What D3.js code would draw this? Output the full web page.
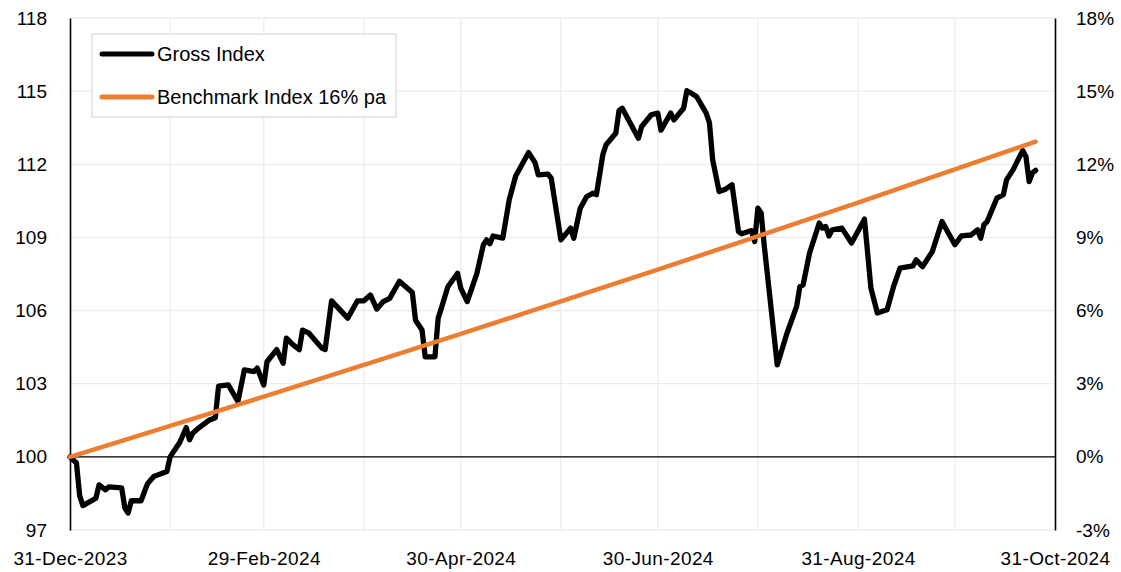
<!DOCTYPE html>
<html>
<head>
<meta charset="utf-8">
<script src="https://cdn.jsdelivr.net/npm/d3@7"></script>
<style>
	body { margin: 0; background: #fff; }
	text { font-family: 'Liberation Sans', Arial, sans-serif; fill: #000; }
</style>
</head>
<body>
<div id="chart"></div>
<script>
// Gross index
const grossDates = [
	'2023-12-31', '2024-01-02', '2024-01-03', '2024-01-04', '2024-01-08', '2024-01-09', '2024-01-11', '2024-01-12',
	'2024-01-16', '2024-01-17', '2024-01-18', '2024-01-19', '2024-01-22', '2024-01-24', '2024-01-26', '2024-01-29',
	'2024-01-30', '2024-01-31', '2024-02-03', '2024-02-05', '2024-02-06', '2024-02-07', '2024-02-09', '2024-02-12',
	'2024-02-14', '2024-02-15', '2024-02-18', '2024-02-21', '2024-02-23', '2024-02-26', '2024-02-27', '2024-02-29',
	'2024-03-01', '2024-03-04', '2024-03-06', '2024-03-07', '2024-03-09', '2024-03-11', '2024-03-12', '2024-03-14',
	'2024-03-18', '2024-03-19', '2024-03-21', '2024-03-26', '2024-03-29', '2024-03-31', '2024-04-02', '2024-04-04',
	'2024-04-06', '2024-04-08', '2024-04-11', '2024-04-15', '2024-04-16', '2024-04-18', '2024-04-19', '2024-04-22',
	'2024-04-23', '2024-04-24', '2024-04-26', '2024-04-29', '2024-04-30', '2024-05-02', '2024-05-05', '2024-05-07',
	'2024-05-08', '2024-05-09', '2024-05-10', '2024-05-13', '2024-05-15', '2024-05-17', '2024-05-21', '2024-05-23',
	'2024-05-24', '2024-05-27', '2024-05-28', '2024-05-31', '2024-06-03', '2024-06-04', '2024-06-06', '2024-06-08',
	'2024-06-10', '2024-06-11', '2024-06-13', '2024-06-14', '2024-06-17', '2024-06-18', '2024-06-19', '2024-06-24',
	'2024-06-25', '2024-06-28', '2024-06-30', '2024-07-01', '2024-07-04', '2024-07-05', '2024-07-08', '2024-07-09',
	'2024-07-10', '2024-07-12', '2024-07-15', '2024-07-16', '2024-07-17', '2024-07-19', '2024-07-21', '2024-07-23',
	'2024-07-25', '2024-07-26', '2024-07-29', '2024-07-30', '2024-07-31', '2024-08-01', '2024-08-02', '2024-08-06',
	'2024-08-09', '2024-08-12', '2024-08-13', '2024-08-14', '2024-08-16', '2024-08-19', '2024-08-20', '2024-08-21',
	'2024-08-22', '2024-08-23', '2024-08-26', '2024-08-29', '2024-09-02', '2024-09-04', '2024-09-06', '2024-09-09',
	'2024-09-11', '2024-09-13', '2024-09-17', '2024-09-18', '2024-09-20', '2024-09-23', '2024-09-26', '2024-09-30',
	'2024-10-02', '2024-10-05', '2024-10-07', '2024-10-08', '2024-10-09', '2024-10-10', '2024-10-13', '2024-10-15',
	'2024-10-16', '2024-10-18', '2024-10-21', '2024-10-22', '2024-10-23', '2024-10-24', '2024-10-25',
]
const grossValues = [
	100.0, 99.75, 98.4, 98.0, 98.3, 98.85, 98.65, 98.77,
	98.73, 97.9, 97.7, 98.2, 98.2, 98.9, 99.2, 99.35,
	99.4, 100.0, 100.6, 101.2, 100.7, 100.97, 101.2, 101.5,
	101.6, 102.9, 102.95, 102.27, 103.57, 103.5, 103.64, 102.95,
	103.9, 104.4, 103.84, 104.87, 104.6, 104.4, 105.2, 105.07,
	104.46, 104.4, 106.4, 105.69, 106.4, 106.4, 106.64, 106.06,
	106.37, 106.5, 107.2, 106.74, 105.6, 105.2, 104.1, 104.1,
	105.69, 106.1, 106.98, 107.53, 106.92, 106.37, 107.53, 108.7,
	108.9, 108.74, 109.06, 108.97, 110.54, 111.52, 112.48, 112.07,
	111.57, 111.6, 111.43, 108.9, 109.38, 108.97, 110.2, 110.68,
	110.82, 110.75, 112.4, 112.8, 113.27, 114.2, 114.3, 113.07,
	113.55, 114.03, 114.1, 113.4, 114.1, 113.82, 114.3, 115.02,
	114.94, 114.78, 114.1, 113.7, 112.18, 110.88, 110.98, 111.16,
	109.24, 109.15, 109.28, 108.83, 110.2, 110.0, 108.63, 103.77,
	105.07, 106.17, 106.98, 107.05, 108.36, 109.59, 109.38, 109.45,
	109.06, 109.31, 109.38, 108.77, 109.75, 106.92, 105.9, 106.03,
	106.98, 107.74, 107.83, 108.08, 107.8, 108.42, 109.65, 108.7,
	109.06, 109.1, 109.31, 108.97, 109.52, 109.65, 110.61, 110.75,
	111.36, 111.77, 112.56, 112.32, 111.29, 111.64, 111.75,
]

// Benchmark index 16% pa, read at month ends
const benchDates = [
	'2023-12-31', '2024-01-31', '2024-02-29', '2024-03-31', '2024-04-30', '2024-05-31',
	'2024-06-30', '2024-07-31', '2024-08-31', '2024-09-30', '2024-10-25',
]
const benchValues = [100.0, 101.27, 102.47, 103.77, 105.04, 106.38, 107.68, 109.05, 110.43, 111.79, 112.93]

const seriesNames = ['Gross Index', 'Benchmark Index 16% pa']
const seriesColors = ['#000000', '#ed7d31']

const leftTicks = [97, 100, 103, 106, 109, 112, 115, 118]
const rightTicks = [-0.03, 0, 0.03, 0.06, 0.09, 0.12, 0.15, 0.18]
const xLabelDates = ['2023-12-31', '2024-02-29', '2024-04-30', '2024-06-30', '2024-08-31', '2024-10-31']
const gridDates = [
	'2024-01-31', '2024-02-29', '2024-03-31', '2024-04-30', '2024-05-31',
	'2024-06-30', '2024-07-31', '2024-08-31', '2024-09-30',
]

const margin = {top: 18, right: 66, bottom: 42, left: 70}
const fullWidth = 1121
const fullHeight = 572
const width = fullWidth - margin.left - margin.right
const height = fullHeight - margin.top - margin.bottom

const parse = d3.utcParse('%Y-%m-%d')
const gross = grossDates.map((d, i) => ({date: parse(d), value: grossValues[i]}))
const bench = benchDates.map((d, i) => ({date: parse(d), value: benchValues[i]}))

const x = d3.scaleUtc().domain([parse('2023-12-31'), parse('2024-10-31')]).range([0, width])
const y = d3.scaleLinear().domain([97, 118]).range([height, 0])
const yRight = d3.scaleLinear().domain([-0.03, 0.18]).range([height, 0])

const svg = d3
	.select('#chart')
	.append('svg')
	.attr('width', fullWidth)
	.attr('height', fullHeight)
	.style('display', 'block')
const g = svg.append('g').attr('transform', `translate(${margin.left}, ${margin.top})`)

// grid
g.append('g')
	.selectAll('line')
	.data(leftTicks)
	.join('line')
	.attr('x1', 0)
	.attr('x2', width)
	.attr('y1', (d) => y(d))
	.attr('y2', (d) => y(d))
	.attr('stroke', '#ececec')
	.attr('stroke-width', 1.3)
g.append('g')
	.selectAll('line')
	.data(gridDates.map(parse))
	.join('line')
	.attr('x1', (d) => x(d))
	.attr('x2', (d) => x(d))
	.attr('y1', 0)
	.attr('y2', height)
	.attr('stroke', '#ececec')
	.attr('stroke-width', 1.3)

// zero line
g.append('line')
	.attr('x1', 0)
	.attr('x2', width)
	.attr('y1', y(100))
	.attr('y2', y(100))
	.attr('stroke', '#000')
	.attr('stroke-width', 1.3)

// axes
const leftAxis = g
	.append('g')
	.call(d3.axisLeft(y).tickValues(leftTicks).tickSize(0).tickPadding(23))
leftAxis.select('.domain').attr('stroke', '#000').attr('stroke-width', 1.6)
leftAxis.selectAll('text').attr('font-size', 19)

const rightAxis = g
	.append('g')
	.attr('transform', `translate(${width}, 0)`)
	.call(d3.axisRight(yRight).tickValues(rightTicks).tickSize(0).tickPadding(21))
rightAxis.select('.domain').attr('stroke', '#000').attr('stroke-width', 1.6)
rightAxis.selectAll('text').attr('font-size', 19).text((d) => d3.format('.0%')(d).replace('−', '-'))

const bottomAxis = g
	.append('g')
	.attr('transform', `translate(0, ${height})`)
	.call(
		d3
			.axisBottom(x)
			.tickValues(xLabelDates.map(parse))
			.tickSize(0)
			.tickPadding(22)
			.tickFormat(d3.utcFormat('%d-%b-%Y'))
	)
bottomAxis.select('.domain').remove()
bottomAxis.selectAll('text').attr('font-size', 19).attr('letter-spacing', 0.4)
svg.selectAll('.tick text').attr('font-family', null)

// lines
const line = d3
	.line()
	.x((d) => x(d.date))
	.y((d) => y(d.value))

g.append('path')
	.datum(gross)
	.attr('d', line)
	.attr('fill', 'none')
	.attr('stroke', seriesColors[0])
	.attr('stroke-width', 5.3)
	.attr('stroke-linejoin', 'round')
	.attr('stroke-linecap', 'round')

g.append('path')
	.datum(bench)
	.attr('d', line.curve(d3.curveMonotoneX))
	.attr('fill', 'none')
	.attr('stroke', seriesColors[1])
	.attr('stroke-width', 4.5)
	.attr('stroke-linecap', 'round')

// legend
const legend = svg.append('g').attr('transform', 'translate(92, 34)')
legend
	.append('rect')
	.attr('width', 304)
	.attr('height', 83)
	.attr('fill', '#fff')
	.attr('stroke', '#d9d9d9')
	.attr('stroke-width', 1.2)
const item = legend
	.selectAll('.item')
	.data(seriesNames)
	.join('g')
	.attr('class', 'item')
	.attr('transform', (d, i) => `translate(0, ${20 + i * 43})`)
item.append('line')
	.attr('x1', 10)
	.attr('x2', 60)
	.attr('stroke', (d, i) => seriesColors[i])
	.attr('stroke-width', 5)
	.attr('stroke-linecap', 'round')
item.append('text')
	.attr('x', 65)
	.attr('dy', '0.35em')
	.attr('font-size', 20)
	.text((d) => d)
</script>
</body>
</html>
